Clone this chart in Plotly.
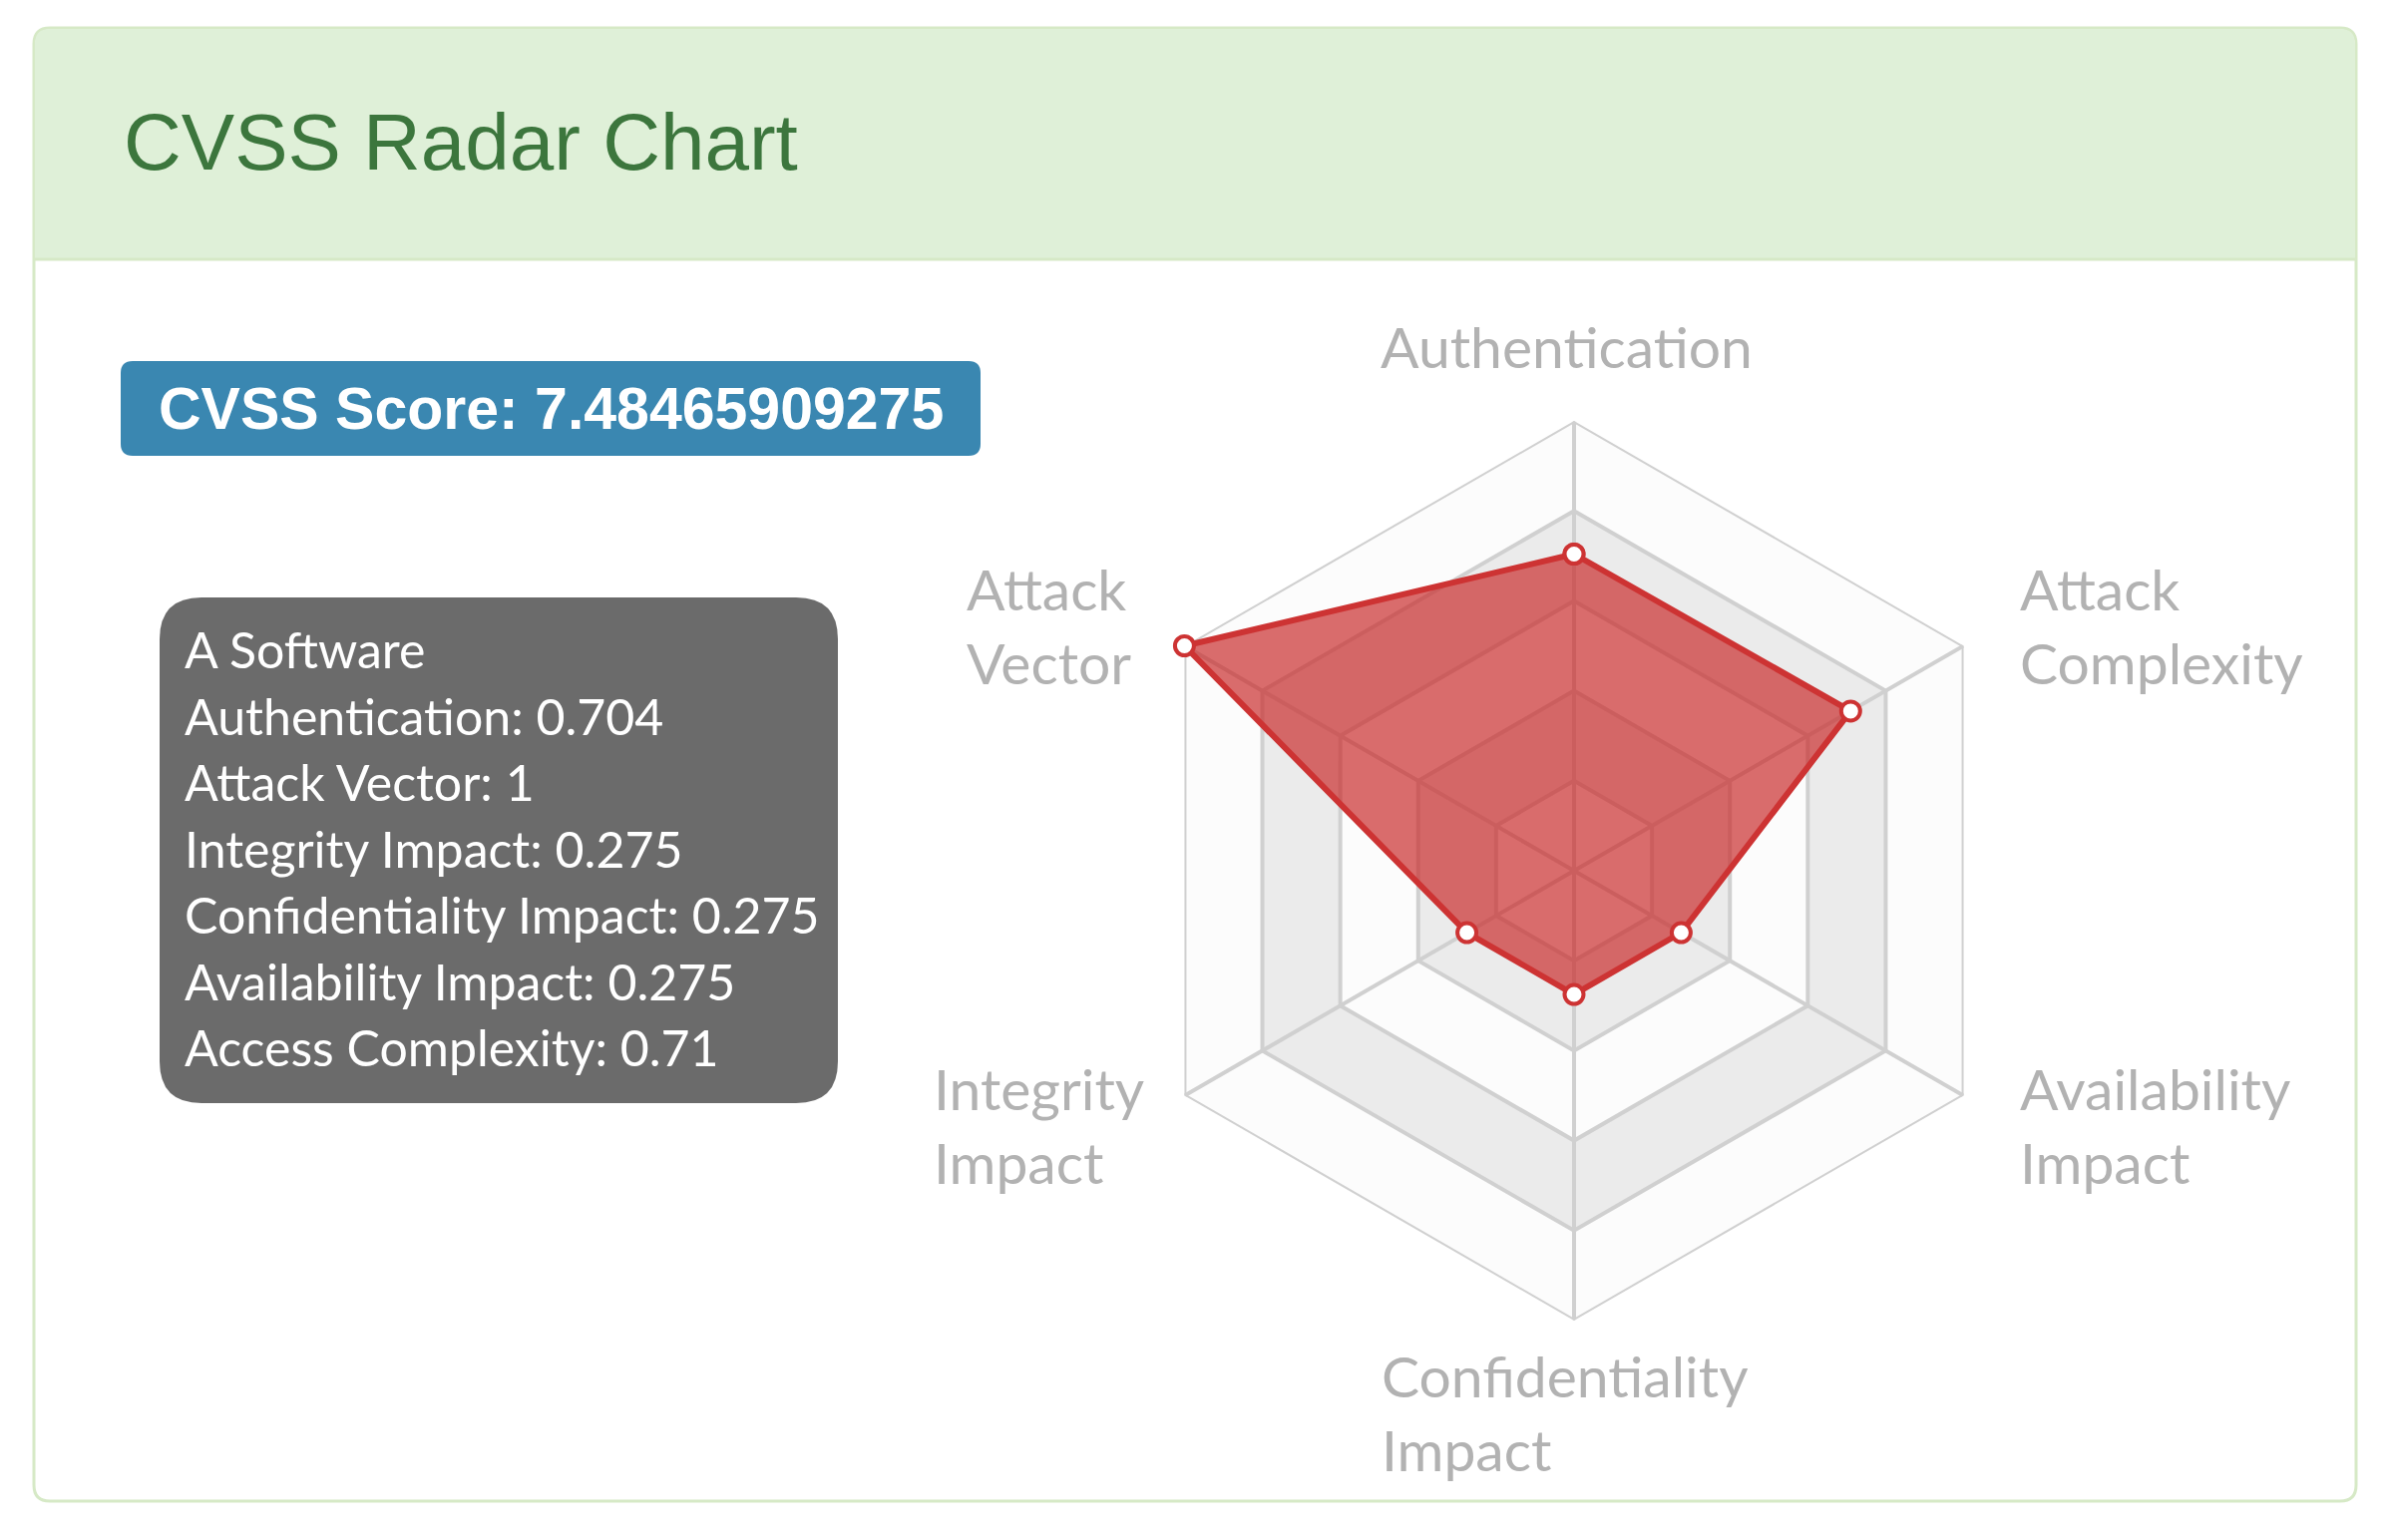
import plotly.graph_objects as go

# Radar axes (clockwise from the top) and their scores
categories = [
    "Authentication",
    "Attack Complexity",
    "Availability Impact",
    "Confidentiality Impact",
    "Integrity Impact",
    "Attack Vector",
]
scores = [0.704, 0.71, 0.275, 0.275, 0.275, 1]

# Tooltip box content, in the order it is listed
software_name = "A Software"
tooltip_names = [
    "Authentication",
    "Attack Vector",
    "Integrity Impact",
    "Confidentiality Impact",
    "Availability Impact",
    "Access Complexity",
]
tooltip_values = ["0.704", "1", "0.275", "0.275", "0.275", "0.71"]

cvss_score = "7.48465909275"
ring_levels = [1.0, 0.8, 0.6, 0.4, 0.2]

W, H = 2396, 1544
GRID = "#d0d0d0"
LABEL = "#b2b2b2"
RED = "#cd3333"


def rounded(x0, y0, x1, y1, r, top=True, bottom=True):
    rt = r if top else 0
    rb = r if bottom else 0
    p = f"M {x0 + rt},{y0} L {x1 - rt},{y0} "
    p += f"Q {x1},{y0} {x1},{y0 + rt} " if rt else ""
    p += f"L {x1},{y1 - rb} "
    p += f"Q {x1},{y1} {x1 - rb},{y1} " if rb else ""
    p += f"L {x0 + rb},{y1} "
    p += f"Q {x0},{y1} {x0},{y1 - rb} " if rb else ""
    p += f"L {x0},{y0 + rt} "
    p += f"Q {x0},{y0} {x0 + rt},{y0} " if rt else ""
    return p + "Z"


fig = go.Figure()

# invisible trace so the pixel-space cartesian axes exist for the panel shapes
fig.add_trace(go.Scatter(x=[0], y=[0], mode="markers", marker=dict(opacity=0),
                         hoverinfo="skip", showlegend=False))

# alternating grid bands of the radar
closed = categories + [categories[0]]
for i, lvl in enumerate(ring_levels):
    fig.add_trace(go.Scatterpolar(
        r=[lvl] * len(closed), theta=closed, mode="lines", fill="toself",
        fillcolor="#fcfcfc" if i % 2 == 0 else "#ebebeb",
        line=dict(color=GRID, width=4), hoverinfo="skip", showlegend=False,
    ))

# spokes
spoke_r, spoke_t = [], []
for c in categories:
    spoke_r += [0, ring_levels[0], None]
    spoke_t += [c, c, None]
fig.add_trace(go.Scatterpolar(r=spoke_r, theta=spoke_t, mode="lines",
                              line=dict(color=GRID, width=4),
                              hoverinfo="skip", showlegend=False))

# data polygon
fig.add_trace(go.Scatterpolar(
    r=scores + [scores[0]], theta=closed, mode="lines+markers", fill="toself",
    fillcolor="rgba(200,40,40,0.68)",
    line=dict(color=RED, width=6),
    marker=dict(size=19, color="white", line=dict(color=RED, width=4)),
    name=software_name, showlegend=False,
))

cx, cy, rad = 1578, 873, 451
fig.update_layout(
    width=W, height=H, margin=dict(l=0, r=0, t=0, b=0),
    paper_bgcolor="white", plot_bgcolor="rgba(0,0,0,0)",
    xaxis=dict(range=[0, W], visible=False, domain=[0, 1], fixedrange=True),
    yaxis=dict(range=[H, 0], visible=False, domain=[0, 1], fixedrange=True),
    polar=dict(
        domain=dict(x=[(cx - rad) / W, (cx + rad) / W],
                    y=[(H - cy - rad) / H, (H - cy + rad) / H]),
        bgcolor="rgba(0,0,0,0)",
        gridshape="linear",
        radialaxis=dict(range=[0, 1], visible=False, showgrid=False),
        angularaxis=dict(type="category", categoryarray=categories,
                         direction="clockwise", rotation=90,
                         showgrid=False, showline=False,
                         showticklabels=False, ticks=""),
    ),
)

shapes = [
    # panel
    dict(type="path", path=rounded(34, 28, 2362, 1505, 16),
         fillcolor="white", line=dict(color="#d6e9c6", width=3)),
    # header
    dict(type="path", path=rounded(35, 29, 2361, 260, 15, bottom=False),
         fillcolor="#dff0d8", line=dict(width=0)),
    dict(type="line", x0=35, x1=2361, y0=260, y1=260,
         line=dict(color="#d6e9c6", width=3)),
    # score badge
    dict(type="path", path=rounded(121, 362, 983, 457, 12),
         fillcolor="#3a87b1", line=dict(width=0)),
    # tooltip box
    dict(type="path", path=rounded(160, 599, 840, 1106, 42),
         fillcolor="#6b6b6b", line=dict(width=0)),
]
for s in shapes:
    s.update(xref="x", yref="y", layer="below")
fig.update_layout(shapes=shapes)

ann = [
    dict(x=122, y=142, text="CVSS Radar Chart", xanchor="left", yanchor="middle",
         font=dict(family="Liberation Sans, Arial", size=80, color="#3c763d")),
    dict(x=552, y=410, text=f"<b>CVSS Score: {cvss_score}</b>", xanchor="center",
         yanchor="middle",
         font=dict(family="Liberation Sans, Arial", size=59, color="white")),
]

# tooltip box lines
lines = [software_name] + [f"{n}: {v}" for n, v in zip(tooltip_names, tooltip_values)]
for i, txt in enumerate(lines):
    ann.append(dict(x=183, y=651 + i * 66.5, text=txt, xanchor="left",
                    yanchor="middle", align="left",
                    font=dict(family="Lato", size=50, color="white")))

# radar axis labels
label_pos = {
    "Authentication": (1570, 347, "center", "Authentication"),
    "Attack Complexity": (2023, 627, "left", "Attack<br>Complexity"),
    "Availability Impact": (2023, 1128, "left", "Availability<br>Impact"),
    "Confidentiality Impact": (1383, 1416, "left", "Confidentiality<br>Impact"),
    "Integrity Impact": (934, 1128, "left", "Integrity<br>Impact"),
    "Attack Vector": (967, 627, "left", "Attack<br>Vector"),
}
for c in categories:
    x, y, anchor, txt = label_pos[c]
    ann.append(dict(x=x, y=y, text=txt, xanchor=anchor, yanchor="middle",
                    align="left", font=dict(family="Lato", size=57, color=LABEL)))

for a in ann:
    a.update(xref="x", yref="y", showarrow=False)
fig.update_layout(annotations=ann)

fig.write_html("out.html", config={"displayModeBar": False},
               post_script="document.body.style.margin='0';")
